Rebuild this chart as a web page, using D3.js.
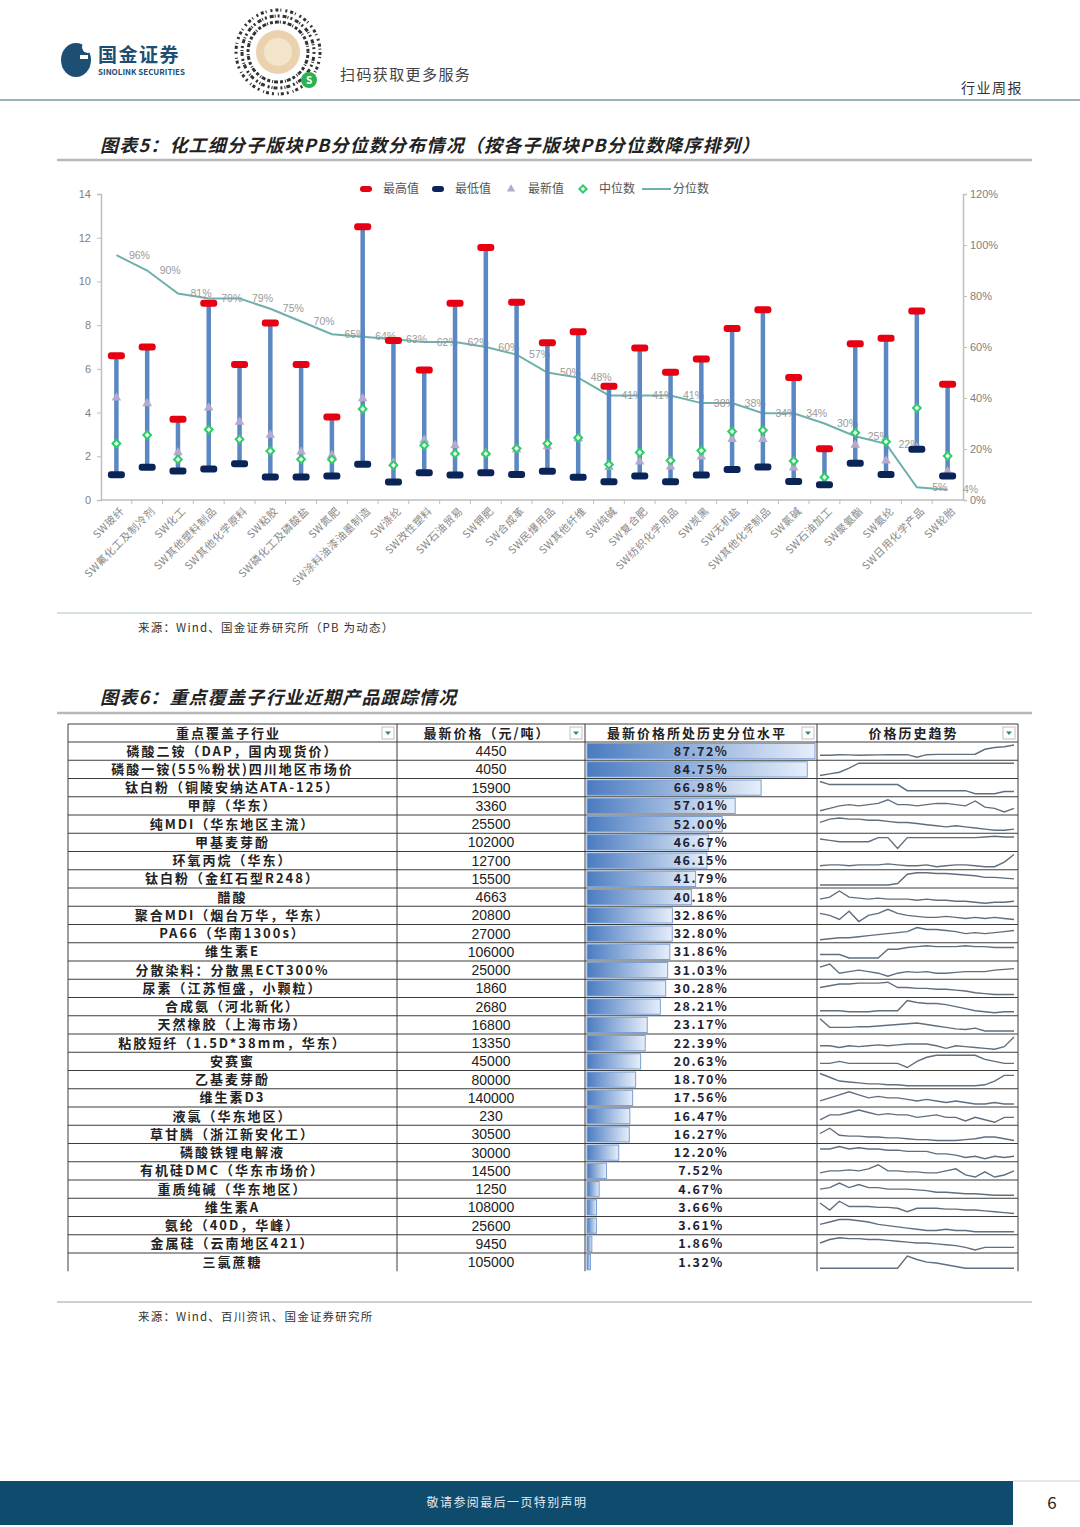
<!DOCTYPE html>
<html>
<head>
<meta charset="utf-8">
<script src="https://cdn.jsdelivr.net/npm/d3@7"></script>
<style>
  body { margin: 0; background: #fff; }
  svg { display: block; font-family: "Noto Sans CJK SC", "Noto Sans", sans-serif; }
</style>
</head>
<body>
<svg id="page" width="1080" height="1527"></svg>
<script>
// ---------- 图表5 数据 ----------
const categories = ['SW玻纤','SW氟化工及制冷剂','SW化工','SW其他塑料制品','SW其他化学原料','SW粘胶',
  'SW磷化工及磷酸盐','SW氮肥','SW涂料油漆油墨制造','SW涤纶','SW改性塑料','SW石油贸易','SW钾肥','SW合成革',
  'SW民爆用品','SW其他纤维','SW纯碱','SW复合肥','SW纺织化学用品','SW炭黑','SW无机盐','SW其他化学制品',
  'SW氯碱','SW石油加工','SW聚氨酯','SW氨纶','SW日用化学产品','SW轮胎'];
const maxVals = [6.6,7.0,3.7,9.0,6.2,8.1,6.2,3.8,12.5,7.3,5.95,9.0,11.55,9.05,7.2,7.7,5.2,6.95,5.85,6.45,7.85,8.7,5.6,2.35,7.15,7.4,8.65,5.3];
const minVals = [1.15,1.5,1.33,1.42,1.66,1.05,1.05,1.1,1.63,0.82,1.25,1.14,1.25,1.17,1.31,1.04,0.84,1.1,0.84,1.14,1.4,1.51,0.85,0.7,1.68,1.17,2.32,1.1];
const latestVals = [4.68,4.42,2.17,4.22,3.57,2.97,2.21,2.05,4.64,1.7,2.74,2.5,2.15,2.3,2.45,2.8,1.5,1.75,1.52,1.98,2.78,2.78,1.48,0.8,2.52,1.8,2.4,1.3];
const medianVals = [2.58,2.97,1.85,3.22,2.78,2.24,1.86,1.85,4.16,1.59,2.5,2.12,2.12,2.36,2.58,2.85,1.62,2.17,1.81,2.26,3.13,3.19,1.78,1.04,3.08,2.67,4.21,2.01];
const pctVals = [96,90,81,79,79,75,70,65,64,63,62,62,60,57,50,48,41,41,41,38,38,34,34,30,25,22,5,4];
const leftTicks = [0,2,4,6,8,10,12,14];
const rightTicks = [0,20,40,60,80,100,120];

// ---------- 图表6 数据 ----------
const products = ['磷酸二铵（DAP，国内现货价）','磷酸一铵(55%粉状)四川地区市场价','钛白粉（铜陵安纳达ATA-125）','甲醇（华东）',
  '纯MDI（华东地区主流）','甲基麦芽酚','环氧丙烷（华东）','钛白粉（金红石型R248）','醋酸','聚合MDI（烟台万华，华东）',
  'PA66（华南1300s）','维生素E','分散染料：分散黑ECT300%','尿素（江苏恒盛，小颗粒）','合成氨（河北新化）','天然橡胶（上海市场）',
  '粘胶短纤（1.5D*38mm，华东）','安赛蜜','乙基麦芽酚','维生素D3','液氯（华东地区）','草甘膦（浙江新安化工）','磷酸铁锂电解液',
  '有机硅DMC（华东市场价）','重质纯碱（华东地区）','维生素A','氨纶（40D，华峰）','金属硅（云南地区421）','三氯蔗糖'];
const prices = [4450,4050,15900,3360,25500,102000,12700,15500,4663,20800,27000,106000,25000,1860,2680,16800,13350,45000,80000,140000,230,30500,30000,14500,1250,108000,25600,9450,105000];
const pricePcts = [87.72,84.75,66.98,57.01,52.00,46.67,46.15,41.79,40.18,32.86,32.80,31.86,31.03,30.28,28.21,23.17,22.39,20.63,18.70,17.56,16.47,16.27,12.20,7.52,4.67,3.66,3.61,1.86,1.32];
const headers = ['重点覆盖子行业','最新价格（元/吨）','最新价格所处历史分位水平','价格历史趋势'];
// 价格历史趋势（迷你图，按图估读的相对高度）
const trendSeries = [
  [2,2,2.3,2.2,2,2.1,2.2,2.3,2.3,2.3,0.8,2.3,2.5,2.5,2.5,2.5,2.6,5.5,6.5,7,8],
  [0.5,1.5,2.5,5,8,8,8,8,8,8,8,8,8,8,8,8,8,8,8,8,8],
  [9,7,7,7,7,7,7,7,7,3,3,3,3,3,3,3,1,1,1,2.5,2.5],
  [2,3,4,4.5,4,4.5,5,6.5,4.5,4.5,4,4.5,5,5,4.5,4,6,3.5,3,1.5,3],
  [5,6.5,7,6.5,6.5,6,6,5.5,5,5,4.5,4,3.5,3,3.5,3,2.5,2,1.5,1.5,2],
  [7,6,5,5,5,5,8,8,0,8,8,8,8,8,8,8,8,8.5,9,8.5,8.5],
  [3,3.5,3.5,3,3.5,3.5,3.5,4,3.5,3,3,3.5,2.5,3,3.5,3.5,3,2.5,2.5,5,9],
  [1,1,1,1,1,1,1,1,2,8,9,9,8.5,8.5,8,7.5,7,6,6,5.5,5],
  [4,5,8,5,4.5,4,4.5,4,4,4,3.5,4,3.5,3.5,3,3,2.5,2,2.5,2.5,3],
  [6,5,3,7,2,5,6,8,6,5,4.5,4,4,4.5,4,3.5,4,3.5,4,3.5,3],
  [2,2.5,3,3,3.5,4,4.5,5,5.5,6,8,7,7,6.5,6,5,5.5,5,5.5,6,6.5],
  [3,3,3,1,1,1,1,6,6,7,7.5,8,7.5,7.5,7.5,8,7.5,7.5,7,7,7],
  [7,9,3,4,5,4,3,1,3,4,3.5,4,3,3,3.5,4,4,4,5,5.5,6],
  [5,6,7,7,7.5,7.5,7.5,8,5,5,4.5,4.5,4,4,3.5,3,2,1.5,1,1,1],
  [3,3,3,2.5,2.5,2.5,3,3,3,8,7,6.5,6.5,6,5,4,3,2.5,2,2.5,2.5],
  [9,3,3,3,3.5,3.5,4,4.5,5,5.5,6,5,4,3,2,1.5,2.5,0.5,0.5,0.5,0.5],
  [4,4,3,4,3.5,4,4.5,4,4.5,5,5,5,4,2.5,4,3.5,3,2.5,2,3.5,9],
  [3,3,4,3,3,3,3,3,3,1,4,6,7,7,7,7,7,5,4,3,3],
  [8,6,4,3.5,3,2.5,2.5,2,2,1.5,1.5,1.5,1.5,1.5,1.5,1.5,1.5,2,4,7,7],
  [4,5,6,7,6,5,5.5,5,5,4.5,4,4.5,4,3.5,4,3.5,3,3,3.5,3,3],
  [3,5,5,6,7,6,5,5.5,5,5,4,4.5,5,4,4,2.5,4,3,2,4,4],
  [6,9,5,4.5,4.5,4,4,3.5,3.5,3,2.5,2.5,2,2,2,2.5,3,4,4,3,2],
  [6,6,7,6,6.5,6,6,5.5,5.5,5,5,5,4,4,3.5,2.5,3,2,3,2.5,3],
  [3,4,4,4.5,4,5,7,4,4,3.5,3.5,3,3,4,5,2,1,3.5,1,2,4],
  [5,6,9,6,8,6,6,5,5,5,4.5,4,3,3,2.5,2,2,1.5,1,1,1],
  [8,4,9,6,6,6,5.5,5.5,5,3,5,5,5,4.5,4.5,4,4,3.5,3,2.5,2],
  [5,6,7,7,6.5,6,5,4.5,4,3.5,3,2.5,2.5,3,2.5,2.5,2,2,2,2,2],
  [5,7,8,7.5,7.5,7,7,6.5,6,5.5,5,5,4.5,4,3.5,2.5,1,2.5,2.5,2.5,2.5],
  [1,1,1,1,1,1,1,1,1,8,6,4.5,4,3,2,1,1,1,1,1,1]
];

const svg = d3.select('#page');
svg.append('rect').attr('width', 1080).attr('height', 1527).attr('fill', '#fff');

// ---------- 页眉 ----------
const head = svg.append('g');
head.append('ellipse').attr('cx', 76).attr('cy', 60).attr('rx', 15).attr('ry', 17).attr('fill', '#1d4e74');
head.append('circle').attr('cx', 88).attr('cy', 47).attr('r', 6).attr('fill', '#fff');
head.append('rect').attr('x', 80).attr('y', 55).attr('width', 8).attr('height', 4).attr('fill', '#fff');
head.append('text').attr('x', 98).attr('y', 62).attr('font-size', 19).attr('font-weight', 'bold')
  .attr('fill', '#1d4e74').attr('letter-spacing', 1.5).text('国金证券');
head.append('text').attr('x', 98).attr('y', 75).attr('font-size', 8).attr('font-weight', 'bold')
  .attr('fill', '#1d4e74').text('SINOLINK SECURITIES');

// 小程序码（示意）
const qr = head.append('g').attr('transform', 'translate(278,52)');
[[42, '3 2 1 4 2 3'], [36, '2 3 4 1 1 2'], [30, '1 2 3 2 4 1']].forEach(([r, dash]) => {
  qr.append('circle').attr('r', r).attr('fill', 'none').attr('stroke', '#333')
    .attr('stroke-width', 3).attr('stroke-dasharray', dash);
});
qr.append('circle').attr('r', 22).attr('fill', '#ead2ae');
qr.append('circle').attr('r', 14).attr('fill', '#f3e4cc');
qr.append('circle').attr('cx', 31).attr('cy', 28).attr('r', 8).attr('fill', '#2bb24c');
qr.append('text').attr('x', 31).attr('y', 32).attr('text-anchor', 'middle').attr('font-size', 10)
  .attr('fill', '#fff').attr('font-weight', 'bold').text('S');

head.append('text').attr('x', 340).attr('y', 80).attr('font-size', 15).attr('letter-spacing', 1.4)
  .attr('fill', '#444').text('扫码获取更多服务');
head.append('text').attr('x', 1023).attr('y', 93).attr('text-anchor', 'end').attr('font-size', 14)
  .attr('letter-spacing', 1.5).attr('fill', '#333').text('行业周报');
head.append('line').attr('x1', 0).attr('x2', 1080).attr('y1', 100).attr('y2', 100)
  .attr('stroke', '#7a97a8').attr('stroke-width', 1.5);

// ---------- 图表5 ----------
svg.append('text').attr('x', 100).attr('y', 152).attr('font-size', 18).attr('font-weight', 'bold')
  .attr('font-style', 'italic').attr('letter-spacing', 1.2).attr('fill', '#222')
  .text('图表5：化工细分子版块PB分位数分布情况（按各子版块PB分位数降序排列）');
svg.append('line').attr('x1', 57).attr('x2', 1032).attr('y1', 160).attr('y2', 160)
  .attr('stroke', '#b8b8b8').attr('stroke-width', 2.5);

const chart = svg.append('g');
const x = d3.scaleBand().domain(categories).range([101, 963]).padding(0);
const y = d3.scaleLinear().domain([0, 14]).range([500, 194]);
const yR = d3.scaleLinear().domain([0, 120]).range([500, 194]);
const cx = c => x(c) + x.bandwidth() / 2;
const axisColor = '#bfbfbf';
const tickText = '#7f7f7f';

const leftAxis = chart.append('g').attr('transform', 'translate(101,0)')
  .call(d3.axisLeft(y).tickValues(leftTicks).tickSize(4).tickPadding(6));
const rightAxis = chart.append('g').attr('transform', 'translate(963,0)')
  .call(d3.axisRight(yR).tickValues(rightTicks).tickSize(4).tickPadding(3).tickFormat(d => d + '%'));
[leftAxis, rightAxis].forEach(a => {
  a.select('.domain').attr('stroke', axisColor).attr('stroke-width', 1.5);
  a.selectAll('.tick line').attr('stroke', axisColor);
  a.selectAll('.tick text').attr('fill', tickText).attr('font-size', 11).attr('font-family', '"Liberation Sans", Arial, sans-serif');
});

// 底部轴线与分隔刻度
chart.append('line').attr('x1', 101).attr('x2', 963).attr('y1', 500).attr('y2', 500)
  .attr('stroke', axisColor).attr('stroke-width', 1.5);
chart.selectAll('.xtick').data(categories.slice(1)).join('line').attr('class', 'xtick')
  .attr('x1', d => x(d)).attr('x2', d => x(d)).attr('y1', 500).attr('y2', 504)
  .attr('stroke', axisColor);
chart.selectAll('.xlabel').data(categories).join('text').attr('class', 'xlabel')
  .attr('transform', d => `translate(${cx(d) + 6},509) rotate(-45)`)
  .attr('text-anchor', 'end').attr('dy', '0.35em').attr('font-size', 10.5)
  .attr('letter-spacing', 0.6).attr('fill', '#888').text(d => d);

// 分位数折线
const line = d3.line().x((d, i) => cx(categories[i])).y(d => yR(d));
chart.append('path').datum(pctVals).attr('d', line).attr('fill', 'none')
  .attr('stroke', '#6fb0ad').attr('stroke-width', 2);
chart.selectAll('.plabel').data(pctVals).join('text').attr('class', 'plabel')
  .attr('x', (d, i) => cx(categories[i]) + 23).attr('y', d => yR(d)).attr('dy', '0.35em')
  .attr('text-anchor', 'middle').attr('font-size', 10.5).attr('fill', '#9a9a9a')
  .attr('font-family', '"Liberation Sans", Arial, sans-serif').text(d => d + '%');

// 区间竖线
chart.selectAll('.range').data(categories).join('line').attr('class', 'range')
  .attr('x1', d => cx(d)).attr('x2', d => cx(d))
  .attr('y1', (d, i) => y(minVals[i])).attr('y2', (d, i) => y(maxVals[i]))
  .attr('stroke', '#5b87c2').attr('stroke-width', 4.5);

// 最新值（三角）
chart.selectAll('.latest').data(latestVals).join('path').attr('class', 'latest')
  .attr('transform', (d, i) => `translate(${cx(categories[i])},${y(d)})`)
  .attr('d', d3.symbol(d3.symbolTriangle, 40)).attr('fill', '#b5aacb');

// 中位数（菱形）
chart.selectAll('.median').data(medianVals).join('path').attr('class', 'median')
  .attr('transform', (d, i) => `translate(${cx(categories[i])},${y(d)}) rotate(45)`)
  .attr('d', d3.symbol(d3.symbolSquare, 30)).attr('fill', '#eafbea')
  .attr('stroke', '#2fcc6a').attr('stroke-width', 2);

// 最高/最低值端帽
const cap = (cls, vals, color) => chart.selectAll('.' + cls).data(vals).join('rect').attr('class', cls)
  .attr('x', (d, i) => cx(categories[i]) - 8.5).attr('y', d => y(d) - 3.5)
  .attr('width', 17).attr('height', 7).attr('rx', 3).attr('fill', color);
cap('capMax', maxVals, '#e60012');
cap('capMin', minVals, '#0b2458');

// 图例
const legend = chart.append('g').attr('font-size', 12).attr('fill', '#555');
const legendY = 189;
legend.append('rect').attr('x', 360).attr('y', legendY - 3).attr('width', 12).attr('height', 6).attr('rx', 3).attr('fill', '#e60012');
legend.append('text').attr('x', 383).attr('y', legendY).attr('dy', '0.35em').text('最高值');
legend.append('rect').attr('x', 432).attr('y', legendY - 3).attr('width', 12).attr('height', 6).attr('rx', 3).attr('fill', '#0b2458');
legend.append('text').attr('x', 455).attr('y', legendY).attr('dy', '0.35em').text('最低值');
legend.append('path').attr('transform', `translate(511,${legendY})`).attr('d', d3.symbol(d3.symbolTriangle, 30)).attr('fill', '#b5aacb');
legend.append('text').attr('x', 528).attr('y', legendY).attr('dy', '0.35em').text('最新值');
legend.append('path').attr('transform', `translate(583,${legendY}) rotate(45)`).attr('d', d3.symbol(d3.symbolSquare, 26))
  .attr('fill', '#eafbea').attr('stroke', '#2fcc6a').attr('stroke-width', 2);
legend.append('text').attr('x', 599).attr('y', legendY).attr('dy', '0.35em').text('中位数');
legend.append('line').attr('x1', 642).attr('x2', 671).attr('y1', legendY).attr('y2', legendY).attr('stroke', '#6fb0ad').attr('stroke-width', 2);
legend.append('text').attr('x', 673).attr('y', legendY).attr('dy', '0.35em').text('分位数');

svg.append('line').attr('x1', 57).attr('x2', 1032).attr('y1', 613).attr('y2', 613)
  .attr('stroke', '#a9c4bc').attr('stroke-width', 1);
svg.append('text').attr('x', 138).attr('y', 632).attr('font-size', 11.5).attr('letter-spacing', 1.2)
  .attr('fill', '#333').text('来源：Wind、国金证券研究所（PB 为动态）');

// ---------- 图表6 ----------
svg.append('text').attr('x', 100).attr('y', 704).attr('font-size', 18).attr('font-weight', 'bold')
  .attr('font-style', 'italic').attr('letter-spacing', 1.2).attr('fill', '#222')
  .text('图表6：重点覆盖子行业近期产品跟踪情况');
svg.append('line').attr('x1', 57).attr('x2', 1032).attr('y1', 713).attr('y2', 713)
  .attr('stroke', '#b8b8b8').attr('stroke-width', 2.5);

const table = svg.append('g');
const colX = [68, 397, 585, 817, 1018];
const headTop = 724, rowH = 18.25, bodyTop = headTop + 18;
const rowY = d3.scaleBand().domain(d3.range(products.length)).range([bodyTop, bodyTop + rowH * products.length]);
const barX = d3.scaleLinear().domain([0, d3.max(pricePcts)]).range([0, colX[3] - colX[2] - 4]);
const colMid = i => (colX[i] + colX[i + 1]) / 2;

const defs = svg.append('defs');
const grad = defs.append('linearGradient').attr('id', 'dbar').attr('x1', '0%').attr('x2', '100%');
grad.append('stop').attr('offset', '0%').attr('stop-color', '#4a7bc0');
grad.append('stop').attr('offset', '100%').attr('stop-color', '#e6eefa');

// 数据条
table.selectAll('.dbar').data(pricePcts).join('rect').attr('class', 'dbar')
  .attr('x', colX[2] + 2).attr('y', (d, i) => rowY(i) + 1.5)
  .attr('width', d => barX(d)).attr('height', rowH - 3)
  .attr('fill', 'url(#dbar)').attr('stroke', '#7aa0d4').attr('stroke-width', 1);

// 网格
const gridBottom = bodyTop + rowH * products.length;
table.selectAll('.hline').data([headTop].concat(d3.range(products.length).map(i => rowY(i))))
  .join('line').attr('class', 'hline')
  .attr('x1', colX[0]).attr('x2', colX[4]).attr('y1', d => d).attr('y2', d => d)
  .attr('stroke', '#3c3c3c').attr('stroke-width', 1);
table.selectAll('.vline').data(colX).join('line').attr('class', 'vline')
  .attr('x1', d => d).attr('x2', d => d).attr('y1', headTop).attr('y2', gridBottom)
  .attr('stroke', '#3c3c3c').attr('stroke-width', 1);

// 表头
const cjkFont = '"Noto Sans CJK SC", sans-serif';
headers.forEach((h, i) => {
  table.append('text').attr('x', colMid(i) - 4).attr('y', headTop + 9.5).attr('dy', '0.35em')
    .attr('text-anchor', 'middle').attr('font-size', 13).attr('font-weight', 'bold')
    .attr('letter-spacing', 2).attr('fill', '#222').attr('font-family', cjkFont).text(h);
  const bx = colX[i + 1] - 15;
  table.append('rect').attr('x', bx).attr('y', headTop + 3).attr('width', 12).attr('height', 12)
    .attr('fill', '#fff').attr('stroke', '#b0b0b0').attr('stroke-width', 0.8);
  table.append('path').attr('d', `M${bx + 3},${headTop + 7.5}L${bx + 9},${headTop + 7.5}L${bx + 6},${headTop + 11}Z`)
    .attr('fill', '#2e8c6a');
});

// 行内容
table.selectAll('.pname').data(products).join('text').attr('class', 'pname')
  .attr('x', colMid(0)).attr('y', (d, i) => rowY(i) + rowH / 2).attr('dy', '0.35em')
  .attr('text-anchor', 'middle').attr('font-size', 13).attr('font-weight', 'bold')
  .attr('letter-spacing', 2).attr('fill', '#222').attr('font-family', cjkFont).text(d => d);
table.selectAll('.price').data(prices).join('text').attr('class', 'price')
  .attr('x', colMid(1)).attr('y', (d, i) => rowY(i) + rowH / 2).attr('dy', '0.35em')
  .attr('text-anchor', 'middle').attr('font-size', 14).attr('fill', '#222')
  .attr('font-family', '"Liberation Sans", Arial, sans-serif').text(d => d);
table.selectAll('.pct').data(pricePcts).join('text').attr('class', 'pct')
  .attr('x', colMid(2)).attr('y', (d, i) => rowY(i) + rowH / 2).attr('dy', '0.35em')
  .attr('text-anchor', 'middle').attr('font-size', 12.5).attr('font-weight', 'bold')
  .attr('letter-spacing', 1.5).attr('fill', '#1d2233').attr('font-family', cjkFont)
  .text(d => d.toFixed(2) + '%');

// 迷你走势图
const sx = d3.scaleLinear().domain([0, 20]).range([colX[3] + 3, colX[4] - 4]);
trendSeries.forEach((s, i) => {
  const sy = d3.scaleLinear().domain(d3.extent(s)).range([rowY(i) + rowH - 3, rowY(i) + 3]);
  table.append('path').datum(s)
    .attr('d', d3.line().x((d, j) => sx(j)).y(d => sy(d)))
    .attr('fill', 'none').attr('stroke', '#5f6f7f').attr('stroke-width', 1.4);
});

svg.append('line').attr('x1', 57).attr('x2', 1032).attr('y1', 1302).attr('y2', 1302)
  .attr('stroke', '#cfcfcf').attr('stroke-width', 2);
svg.append('text').attr('x', 138).attr('y', 1321).attr('font-size', 11.5).attr('letter-spacing', 1.2)
  .attr('fill', '#333').text('来源：Wind、百川资讯、国金证券研究所');

// ---------- 页脚 ----------
svg.append('rect').attr('x', 0).attr('y', 1481).attr('width', 1013).attr('height', 44).attr('fill', '#0e4b6c');
svg.append('line').attr('x1', 1013).attr('x2', 1080).attr('y1', 1481).attr('y2', 1481).attr('stroke', '#cfcfcf');
svg.append('text').attr('x', 507).attr('y', 1503).attr('dy', '0.35em').attr('text-anchor', 'middle')
  .attr('font-size', 12).attr('letter-spacing', 1.4).attr('fill', '#e3ecf2').text('敬请参阅最后一页特别声明');
svg.append('text').attr('x', 1052).attr('y', 1503).attr('dy', '0.35em').attr('text-anchor', 'middle')
  .attr('font-size', 17).attr('fill', '#222').text('6');
</script>
</body>
</html>
